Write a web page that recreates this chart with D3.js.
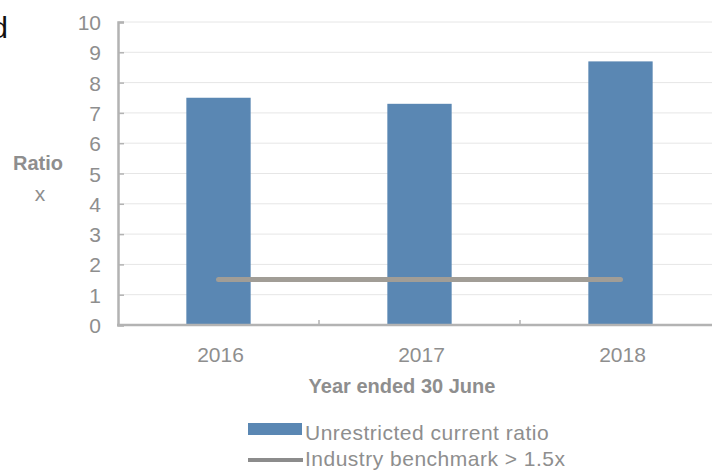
<!DOCTYPE html>
<html lang="en">
<head>
    <meta charset="UTF-8">
    <script src="https://cdn.jsdelivr.net/npm/d3@7"></script>
    <title>Unrestricted current ratio</title>
    <style>
        html, body {
            margin: 0px;
            padding: 0px;
            background-color: #ffffff;
            font-family: "Liberation Sans", Arial, sans-serif;
        }
        svg { display: block; }
    </style>
</head>
<body>
    <div id="chart"></div>
    <script>
        let years = ['2016', '2017', '2018'];
        let ratio = [7.5, 7.3, 8.7];
        let benchmark = [1.5, 1.5, 1.5];
        let y_ticks = [0, 1, 2, 3, 4, 5, 6, 7, 8, 9, 10];

        let width = 712;
        let height = 472;

        let bar_colour = '#5a87b3';
        let bench_colour = '#a19d96';
        let axis_colour = '#b3b3b3';
        let text_colour = '#8e8e8e';

        let svg = d3.select('#chart').append('svg')
            .attr('width', width)
            .attr('height', height);

        let x = d3.scaleBand()
            .domain(years)
            .range([118, 721])
            .paddingInner(0.68)
            .paddingOuter(0.34);

        let y = d3.scaleLinear()
            .domain([0, 10])
            .range([325, 22]);

        // cropped text from the page
        svg.append('text')
            .attr('x', 8).attr('y', 38)
            .attr('text-anchor', 'end')
            .attr('font-size', 30)
            .attr('fill', '#111')
            .text('d');

        // gridlines
        svg.append('g')
            .selectAll('line')
            .data(y_ticks.filter(d => d > 0))
            .join('line')
            .attr('x1', 119).attr('x2', width)
            .attr('y1', d => y(d)).attr('y2', d => y(d))
            .attr('stroke', '#e6e6e6')
            .attr('stroke-width', 1);

        // bars
        svg.append('g')
            .selectAll('rect')
            .data(years)
            .join('rect')
            .attr('x', d => x(d))
            .attr('y', (d, i) => y(ratio[i]))
            .attr('width', x.bandwidth())
            .attr('height', (d, i) => y(0) - y(ratio[i]))
            .attr('fill', bar_colour);

        // benchmark line
        let bench_line = d3.line()
            .x((d, i) => x(years[i]) + x.bandwidth() / 2)
            .y(d => y(d));

        svg.append('path')
            .datum(benchmark)
            .attr('d', bench_line)
            .attr('fill', 'none')
            .attr('stroke', bench_colour)
            .attr('stroke-width', 5)
            .attr('stroke-linecap', 'round');

        // y axis
        let y_axis = svg.append('g')
            .attr('transform', 'translate(118,0)')
            .call(d3.axisRight(y).tickValues(y_ticks).tickSize(6).tickFormat(''));
        y_axis.select('.domain').attr('stroke', axis_colour).attr('stroke-width', 2.5);
        y_axis.selectAll('.tick line').attr('stroke', axis_colour).attr('stroke-width', 1.5);

        svg.append('g')
            .selectAll('text')
            .data(y_ticks)
            .join('text')
            .attr('x', 101)
            .attr('y', d => y(d) + 8)
            .attr('text-anchor', 'end')
            .attr('font-size', 21)
            .attr('fill', text_colour)
            .text(d => d);

        // x axis
        let bounds = years.slice(1).map(d => x(d) - x.step() * x.paddingInner() / 2);
        svg.append('line')
            .attr('x1', 117).attr('x2', width)
            .attr('y1', y(0)).attr('y2', y(0))
            .attr('stroke', axis_colour)
            .attr('stroke-width', 2.5);
        svg.append('g')
            .selectAll('line')
            .data(bounds)
            .join('line')
            .attr('x1', d => d).attr('x2', d => d)
            .attr('y1', y(0)).attr('y2', y(0) - 5)
            .attr('stroke', axis_colour)
            .attr('stroke-width', 1.5);

        svg.append('g')
            .selectAll('text')
            .data(years)
            .join('text')
            .attr('x', d => x(d) + x.bandwidth() / 2 + 2)
            .attr('y', 362)
            .attr('text-anchor', 'middle')
            .attr('font-size', 21)
            .attr('fill', text_colour)
            .text(d => d);

        // axis titles
        svg.append('text')
            .attr('x', 402).attr('y', 393)
            .attr('text-anchor', 'middle')
            .attr('font-size', 20)
            .attr('font-weight', 'bold')
            .attr('fill', text_colour)
            .text('Year ended 30 June');

        svg.append('text')
            .attr('x', 38).attr('y', 170)
            .attr('text-anchor', 'middle')
            .attr('font-size', 20)
            .attr('font-weight', 'bold')
            .attr('fill', text_colour)
            .text('Ratio');
        svg.append('text')
            .attr('x', 40).attr('y', 201)
            .attr('text-anchor', 'middle')
            .attr('font-size', 21)
            .attr('fill', text_colour)
            .text('x');

        // legend
        let legend = svg.append('g');
        legend.append('rect')
            .attr('x', 248).attr('y', 423)
            .attr('width', 54).attr('height', 12)
            .attr('fill', bar_colour);
        legend.append('text')
            .attr('x', 305).attr('y', 440)
            .attr('font-size', 21)
            .attr('letter-spacing', 0.5)
            .attr('fill', text_colour)
            .text('Unrestricted current ratio');
        legend.append('line')
            .attr('x1', 248).attr('x2', 303)
            .attr('y1', 460).attr('y2', 460)
            .attr('stroke', '#8c8c8c')
            .attr('stroke-width', 4);
        legend.append('text')
            .attr('x', 305).attr('y', 466)
            .attr('font-size', 21)
            .attr('letter-spacing', 0.5)
            .attr('fill', text_colour)
            .text('Industry benchmark > 1.5x');
    </script>
</body>
</html>
